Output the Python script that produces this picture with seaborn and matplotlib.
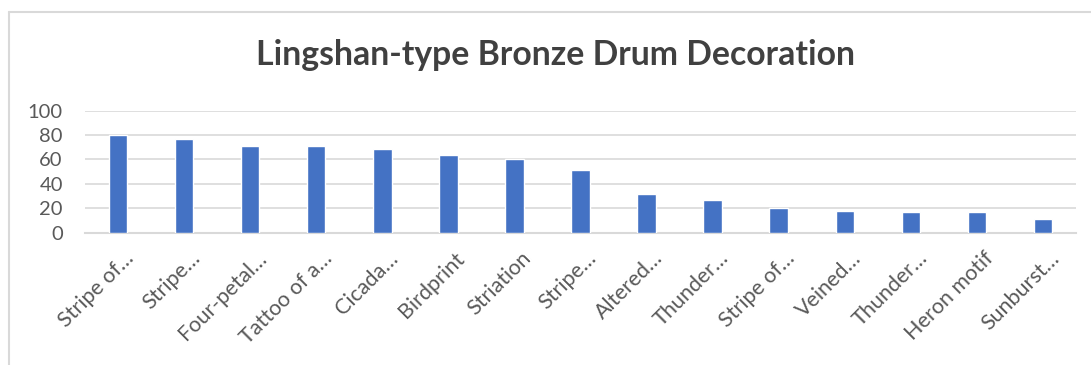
import matplotlib
matplotlib.use("Agg")
import matplotlib.pyplot as plt
import matplotlib.transforms as mtransforms
import seaborn as sns
import pandas as pd
from matplotlib.lines import Line2D

categories = ["Stripe of…", "Stripe…", "Four-petal…", "Tattoo of a…", "Cicada…",
              "Birdprint", "Striation", "Stripe…", "Altered…", "Thunder…",
              "Stripe of…", "Veined…", "Thunder…", "Heron motif", "Sunburst…"]
values = [80, 77, 71, 71, 69, 64, 60, 51, 32, 27, 20, 18, 17, 17, 11]
yticks = [0, 20, 40, 60, 80, 100]

sns.set_theme(style="white")
plt.rcParams['font.family'] = ['Lato', 'DejaVu Sans']

df = pd.DataFrame({"pos": [str(i) for i in range(len(values))], "value": values})

fig = plt.figure(figsize=(10.91, 3.65), dpi=100)
ax = fig.add_axes([0.0779, 0.3625, 0.9084, 0.3342])
sns.barplot(data=df, x="pos", y="value", color="#4472C4", width=0.28,
            saturation=1, ax=ax, zorder=3)
ax.set_ylim(0, 100)
ax.set_xlim(-0.5, len(values) - 0.5)
ax.set_yticks(yticks)
ax.set_yticklabels([str(t) for t in yticks], fontsize=14.5, color="#595959")
ax.set_xticks(range(len(categories)))
ax.set_xticklabels([])
ax.tick_params(axis="both", length=0)
ax.tick_params(axis="y", pad=16)

# category labels, rotated like Excel's
base = mtransforms.blended_transform_factory(ax.transData, ax.transAxes)
offset = mtransforms.ScaledTranslation(0.06, -0.155, fig.dpi_scale_trans)
for i, cat in enumerate(categories):
    ax.text(i, 0, cat, transform=base + offset, rotation=45, ha="right", va="top",
            rotation_mode="anchor", fontsize=15.5, color="#595959", clip_on=False)

ax.grid(axis="y", color="#D9D9D9", linewidth=1.2, zorder=0)
for s in ["top", "right", "left"]:
    ax.spines[s].set_visible(False)
ax.spines["bottom"].set_color("#D9D9D9")
ax.spines["bottom"].set_linewidth(1.5)
ax.set_xlabel("")
ax.set_ylabel("")

fig.text(0.509, 0.85, "Lingshan-type Bronze Drum Decoration", ha="center", va="center",
         fontsize=24.3, fontweight="bold", color="#404040")

# chart area border (left and top only visible)
W, H = 1091, 365
fig.add_artist(Line2D([9 / W, 9 / W], [0, 1 - 12 / H], color="#D9D9D9", lw=1.5,
                      transform=fig.transFigure))
fig.add_artist(Line2D([9 / W, 1], [1 - 12 / H, 1 - 12 / H], color="#D9D9D9", lw=1.5,
                      transform=fig.transFigure))

fig.savefig("out.png", dpi=100, facecolor="white")
